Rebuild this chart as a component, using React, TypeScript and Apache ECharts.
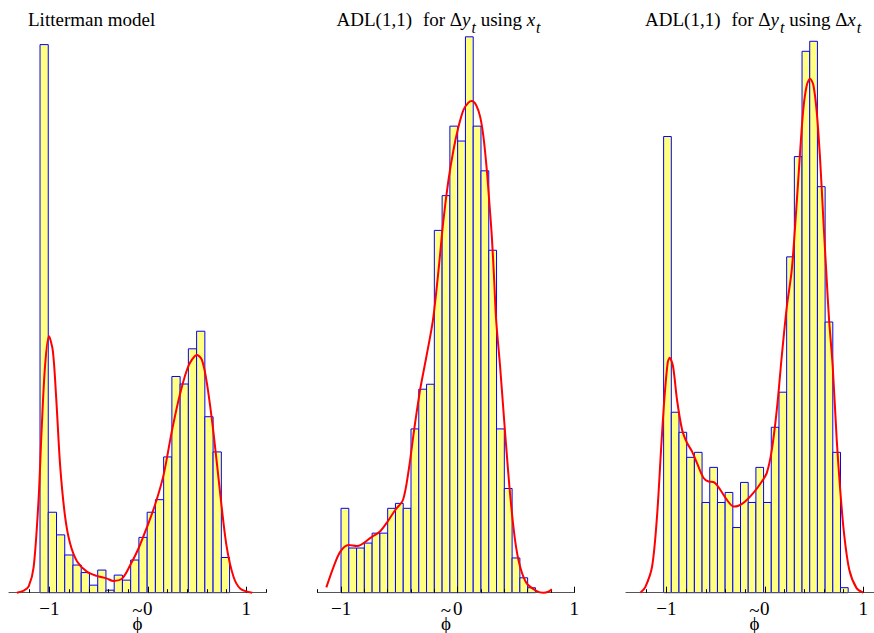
import { useEffect, useRef } from "react";
import * as echarts from "echarts";

// Number of simulated estimates behind each histogram
const N_DRAWS = 1000;

// Litterman model: bin layout, bin counts and kernel density
const litBinStart = -1.095;
const litBinWidth = 0.0837;
const litCounts = [218, 32, 23, 15, 11, 8, 3, 9, 1, 7, 5, 13, 22, 32, 37, 54, 86, 83, 97, 104, 70, 56, 14];
const litDensity: [number, number][] = [
  [-1.33, 0], [-1.26, 0.01], [-1.21, 0.03], [-1.16, 0.12], [-1.11, 0.44], [-1.08, 0.76],
  [-1.045, 1.07], [-1.005, 1.22], [-0.965, 1.15], [-0.93, 0.92], [-0.89, 0.6], [-0.84, 0.36],
  [-0.79, 0.235], [-0.72, 0.15], [-0.62, 0.1], [-0.52, 0.08], [-0.42, 0.068], [-0.35, 0.056],
  [-0.26, 0.068], [-0.18, 0.13], [-0.095, 0.21], [-0.01, 0.31], [0.075, 0.42], [0.16, 0.56],
  [0.245, 0.77], [0.33, 0.95], [0.415, 1.08], [0.5, 1.13], [0.55, 1.105], [0.6, 0.995],
  [0.667, 0.76], [0.735, 0.47], [0.8, 0.22], [0.87, 0.076], [0.94, 0.019], [1.06, 0],
];

// ADL(1,1) for Δy_t using x_t
const adlxBinStart = -1.0;
const adlxBinWidth = 1 / 15;
const adlxCounts = [17, 9, 9, 10, 12, 12, 17, 18, 17, 33, 41, 42, 73, 80, 94, 91, 112, 94, 85, 69, 33, 21, 7, 3, 1];
const adlxDensity: [number, number][] = [
  [-1.126, 0.016], [-1.063, 0.079], [-1.006, 0.124], [-0.935, 0.144], [-0.863, 0.141],
  [-0.735, 0.169], [-0.669, 0.184], [-0.601, 0.215], [-0.535, 0.25], [-0.469, 0.28],
  [-0.42, 0.37], [-0.372, 0.495], [-0.321, 0.615], [-0.27, 0.71], [-0.212, 0.824],
  [-0.164, 0.975], [-0.122, 1.126], [-0.079, 1.247], [-0.036, 1.338], [0.007, 1.408],
  [0.05, 1.459], [0.092, 1.481], [0.122, 1.486], [0.158, 1.474], [0.193, 1.438],
  [0.221, 1.378], [0.25, 1.277], [0.272, 1.177], [0.293, 1.076], [0.313, 0.945],
  [0.33, 0.824], [0.364, 0.683], [0.407, 0.482], [0.449, 0.3], [0.492, 0.159],
  [0.535, 0.079], [0.592, 0.028], [0.678, 0.005], [0.735, 0], [0.777, 0.003], [0.807, 0.01],
];

// ADL(1,1) for Δy_t using Δx_t
const adldBinStart = -1.028;
const adldBinWidth = 0.0781;
const adldCounts = [91, 36, 32, 27, 28, 18, 25, 18, 20, 13, 22, 18, 25, 18, 33, 40, 67, 87, 108, 110, 81, 54, 28, 1];
const adldDensity: [number, number][] = [
  [-1.264, 0], [-1.213, 0.015], [-1.145, 0.067], [-1.095, 0.195], [-1.054, 0.365],
  [-1.021, 0.493], [-0.987, 0.587], [-0.967, 0.6], [-0.933, 0.579], [-0.892, 0.493],
  [-0.841, 0.417], [-0.791, 0.383], [-0.74, 0.361], [-0.689, 0.331], [-0.622, 0.293],
  [-0.572, 0.284], [-0.514, 0.282], [-0.453, 0.263], [-0.385, 0.237], [-0.318, 0.22],
  [-0.268, 0.222], [-0.2, 0.233], [-0.116, 0.255], [-0.03, 0.284], [0.02, 0.306],
  [0.071, 0.365], [0.122, 0.468], [0.172, 0.604], [0.223, 0.73], [0.274, 0.826],
  [0.324, 0.997], [0.358, 1.125], [0.391, 1.236], [0.426, 1.296], [0.459, 1.313],
  [0.493, 1.296], [0.527, 1.228], [0.561, 1.108], [0.594, 0.954], [0.628, 0.801],
  [0.652, 0.698], [0.689, 0.579], [0.73, 0.391], [0.763, 0.271], [0.804, 0.152],
  [0.858, 0.058], [0.933, 0.011], [1.0, 0],
];

// Axis ticks
const majorTicks = [-1, 0, 1];
const minorTicks = [-1.2, -0.8, -0.6, -0.4, -0.2, 0.2, 0.4, 0.6, 0.8, 1.2];

const SERIF = "Liberation Serif";

const panels = [
  {
    title: "Litterman model",
    titleLeft: 28,
    left: 9, width: 257, xMin: -1.41, xMax: 1.2, yMax: 2.674,
    binStart: litBinStart, binWidth: litBinWidth, counts: litCounts, density: litDensity,
  },
  {
    title: "ADL(1,1){gap|for Δ}{i|y}{s|t}{n| using }{i|x}{s|t}",
    titleLeft: 336.5,
    left: 317.7, width: 256.6, xMin: -1.2, xMax: 1.0, yMax: 1.7006,
    binStart: adlxBinStart, binWidth: adlxBinWidth, counts: adlxCounts, density: adlxDensity,
  },
  {
    title: "ADL(1,1){gap|for Δ}{i|y}{s|t}{n| using Δ}{i|x}{s|t}",
    titleLeft: 645,
    left: 626, width: 257, xMin: -1.41, xMax: 1.2, yMax: 1.4373,
    binStart: adldBinStart, binWidth: adldBinWidth, counts: adldCounts, density: adldDensity,
  },
];

function histogramBins(start: number, width: number, counts: number[]) {
  return counts.map((c, i) => [start + i * width, start + (i + 1) * width, c / (N_DRAWS * width)]);
}

const GRID_TOP = 30;
const GRID_HEIGHT = 562.7;

function buildOption() {
  const txt = { fontFamily: SERIF, fontSize: 19, color: "#000" };
  const titleRich = {
    n: { ...txt, lineHeight: 22 },
    gap: { ...txt, lineHeight: 22, padding: [0, 0, 0, 11] },
    i: { ...txt, fontStyle: "italic", lineHeight: 22 },
    s: { ...txt, fontSize: 16, fontStyle: "italic", lineHeight: 22, padding: [15, 0, 0, 1] },
  };

  const grid: any[] = [];
  const xAxis: any[] = [];
  const yAxis: any[] = [];
  const series: any[] = [];
  const title: any[] = [];

  panels.forEach((p, k) => {
    title.push({
      text: p.title,
      left: p.titleLeft,
      top: 8.6,
      padding: 0,
      textStyle: { ...txt, fontWeight: "normal", lineHeight: 22, rich: titleRich },
    });
    grid.push({
      left: p.left,
      width: p.width,
      top: GRID_TOP,
      height: GRID_HEIGHT,
      containLabel: false,
      outerBoundsMode: "none",
    });

    xAxis.push({
      type: "value",
      gridIndex: k,
      min: p.xMin,
      max: p.xMax,
      position: "bottom",
      z: 2,
      axisLine: { show: true, onZero: false, lineStyle: { color: "#555", width: 1.2 } },
      axisTick: { show: true, inside: true, length: 3.5, customValues: minorTicks, lineStyle: { color: "#000", width: 1 } },
      axisLabel: {
        show: true,
        customValues: majorTicks,
        margin: 6,
        hideOverlap: false,
        ...txt,
        formatter: (v: number) => (v < 0 ? "\u2212" + Math.abs(v) : String(v)),
      },
      splitLine: { show: false },
      name: "{t|~}\n{p|\u03d5}",
      nameLocation: "middle",
      nameGap: 15,
      nameMoveOverlap: false,
      nameTextStyle: {
        ...txt,
        rich: {
          t: { ...txt, fontSize: 19, lineHeight: 6 },
          p: { ...txt, lineHeight: 19 },
        },
      },
    });
    xAxis.push({
      type: "value",
      gridIndex: k,
      min: p.xMin,
      max: p.xMax,
      position: "bottom",
      z: 2,
      axisLine: { show: false },
      axisTick: { show: true, inside: true, length: 6, customValues: majorTicks, lineStyle: { color: "#000", width: 1 } },
      axisLabel: { show: false },
      splitLine: { show: false },
    });
    yAxis.push({ type: "value", gridIndex: k, min: 0, max: p.yMax, show: false });

    series.push({
      type: "custom",
      xAxisIndex: 2 * k,
      yAxisIndex: k,
      z: 1,
      data: histogramBins(p.binStart, p.binWidth, p.counts),
      encode: { x: [0, 1], y: 2 },
      renderItem: (_params: any, api: any) => {
        const top = api.coord([api.value(0), api.value(2)]);
        const bottom = api.coord([api.value(1), 0]);
        return {
          type: "rect",
          shape: { x: top[0], y: top[1], width: bottom[0] - top[0], height: bottom[1] - top[1] },
          style: { fill: "#ffff80", stroke: "#0000ff", lineWidth: 1 },
        };
      },
    });
    series.push({
      type: "line",
      xAxisIndex: 2 * k,
      yAxisIndex: k,
      z: 3,
      data: p.density,
      smooth: 0.3,
      symbol: "none",
      clip: false,
      lineStyle: { color: "#ff0000", width: 2 },
    });
  });

  return { animation: false, backgroundColor: "#fff", title, grid, xAxis, yAxis, series };
}

export default function App() {
  const ref = useRef<HTMLDivElement>(null);
  useEffect(() => {
    if (!ref.current) return;
    const chart = echarts.init(ref.current, undefined, { renderer: "svg" });
    chart.setOption(buildOption() as any);
    return () => chart.dispose();
  }, []);
  return (
    <div
      ref={ref}
      style={{ position: "absolute", left: 0, top: 0, width: 874, height: 633 }}
    />
  );
}
